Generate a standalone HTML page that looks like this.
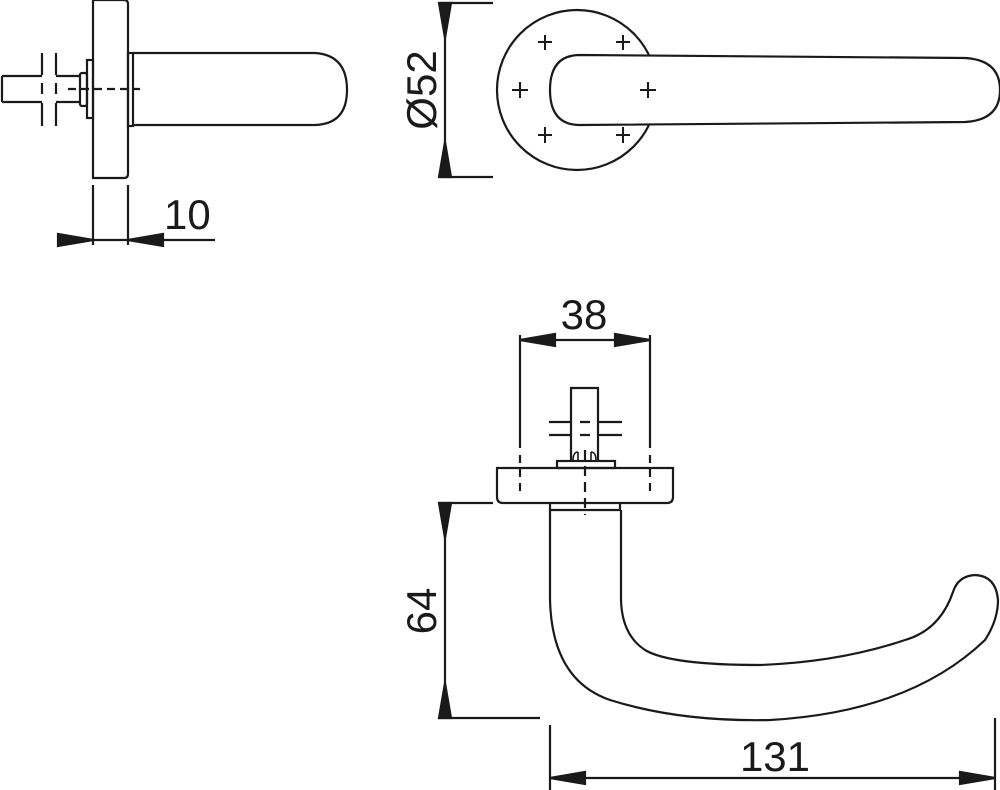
<!DOCTYPE html>
<html><head><style>html,body{margin:0;padding:0;background:#fff}svg{display:block}</style></head>
<body>
<svg width="1000" height="790" viewBox="0 0 1000 790" xmlns="http://www.w3.org/2000/svg" fill="none" stroke="#1a1a1a" stroke-width="2.2" font-family="Liberation Sans, sans-serif">
<!-- LEFT SIDE VIEW -->
<path d="M93 0 V178 H124 Q128 178 128 174 V4 Q128 0 124 0 Z"/>
<rect x="87" y="60" width="6" height="58"/>
<rect x="80" y="73" width="7" height="33" rx="2"/>
<path d="M2 76 H42 M2 102 H42 M56 76 H80 M56 102 H80 M2 76 V102"/>
<path d="M42 53 V75 M42 83 V94 M42 103 V126 M56 53 V75 M56 83 V94 M56 103 V126"/>
<rect x="128" y="53" width="5" height="73"/>
<path d="M133 53 H315 Q347 55 347 90 Q347 124 315 125 H133"/>
<path d="M68 89 H140" stroke-dasharray="8 5"/>
<!-- dim 10 -->
<path d="M93 185 V245 M128 185 V245 M58 240 H215"/>
<path d="M58 234 L93 240 L58 246 Z M163 234 L128 240 L163 246 Z" fill="#1a1a1a"/>
<text x="164" y="229" font-size="42" fill="#1a1a1a" stroke="none">10</text>

<!-- TOP FRONT VIEW -->
<circle cx="577" cy="90" r="80"/>
<path d="M580 55 L965 58 Q1000 60 1000 90 Q1000 120 965 122 L580 125 Q550 125 550 90 Q550 55 580 55 Z" fill="#fff"/>
<g stroke-width="2">
<path d="M545 35 V50 M538 42 H552 M623 35 V50 M616 42 H630 M520 82 V98 M512 90 H528 M648 82 V98 M640 90 H656 M545 127 V143 M538 135 H552 M623 127 V143 M616 135 H630"/>
</g>
<!-- dim Ø52 -->
<path d="M440 3 H493 M440 177 H493 M445 3 V177"/>
<path d="M439 3 L445 38 L451 3 Z M439 177 L445 142 L451 177 Z" fill="#1a1a1a"/>
<text transform="translate(436,90) rotate(-90)" text-anchor="middle" font-size="42" fill="#1a1a1a" stroke="none">Ø52</text>

<!-- BOTTOM VIEW -->
<path d="M520 335 V448 M650 335 V448" />
<path d="M520 455 V492 M650 455 V492" stroke-dasharray="8 6"/>
<path d="M520 340 H650"/>
<path d="M555 334 L520 340 L555 346 Z M615 334 L650 340 L615 346 Z" fill="#1a1a1a"/>
<text x="584" y="329" text-anchor="middle" font-size="42" fill="#1a1a1a" stroke="none">38</text>
<path d="M497 468 H673 V497 Q673 503 667 503 H503 Q497 503 497 497 Z"/>
<rect x="557" y="461" width="58" height="7"/>
<path d="M571 461 V388 H598 V461"/>
<path d="M549 422 H571 M598 422 H622 M549 435 H571 M598 435 H622 M580 422 H590 M580 435 H590"/>
<path d="M573 461 Q573 452 578 452 M596 461 Q596 452 591 452 M578 452 V461 M591 452 V461" stroke-width="1.6"/>
<path d="M585 450 V515" stroke-dasharray="10 6"/>
<path d="M550 503 V510 H620 V503"/>
<path d="M550 510 V600 Q552 680 610 700 Q680 722 770 720 Q910 712 985 640 Q998 620 998 600 Q996 576 975 575 Q958 576 953 592 Q940 630 905 640 Q840 662 760 665 Q670 665 645 650 Q622 635 621 600 V510"/>
<!-- dim 64 -->
<path d="M438 503 H493 M438 718 H540 M445 503 V718"/>
<path d="M439 503 L445 538 L451 503 Z M439 718 L445 683 L451 718 Z" fill="#1a1a1a"/>
<text transform="translate(436,611) rotate(-90)" text-anchor="middle" font-size="42" fill="#1a1a1a" stroke="none">64</text>
<!-- dim 131 -->
<path d="M550 725 V790 M995 718 V790 M550 778 H995"/>
<path d="M585 772 L550 778 L585 784 Z M960 772 L995 778 L960 784 Z" fill="#1a1a1a"/>
<text x="775" y="771" text-anchor="middle" font-size="42" fill="#1a1a1a" stroke="none">131</text>
</svg>
</body></html>
